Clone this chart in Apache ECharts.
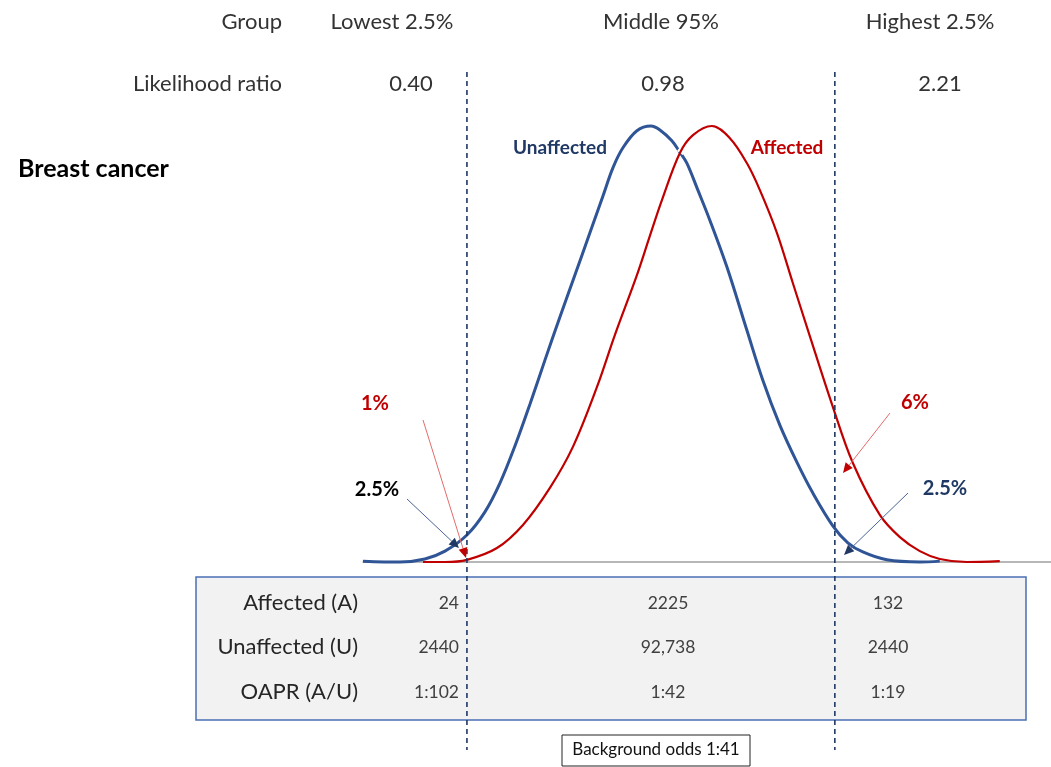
<!DOCTYPE html>
<html><head><meta charset="utf-8">
<script src="https://cdn.jsdelivr.net/npm/echarts@6/dist/echarts.min.js"></script>
<style>html,body{margin:0;padding:0;background:#fff}#c{width:1051px;height:767px}</style>
</head><body><div id="c"></div>
<script>
// ---- data ----
const groupLabels = ['Lowest 2.5%', 'Middle 95%', 'Highest 2.5%'];
const likelihoodRatios = ['0.40', '0.98', '2.21'];
const rowLabels = ['Affected (A)', 'Unaffected (U)', 'OAPR (A/U)'];
const affectedCounts = ['24', '2225', '132'];
const unaffectedCounts = ['2440', '92,738', '2440'];
const oaprValues = ['1:102', '1:42', '1:19'];
const backgroundOdds = 'Background odds 1:41';
const thresholds = [-2, 2];             // cut points (SD units of unaffected)
const tailLabels = ['1%', '2.5%', '6%', '2.5%'];
// relative density curves [score (SD units), relative height]
const unaffectedCurve = [
  [-3.130, 0.002], [-2.728, 0.000], [-2.457, 0.007], [-2.239, 0.025], [-2.000, 0.062],
  [-1.804, 0.115], [-1.641, 0.181], [-1.478, 0.266], [-1.315, 0.362], [-1.152, 0.463],
  [-0.989, 0.562], [-0.826, 0.658], [-0.663, 0.755], [-0.522, 0.839], [-0.413, 0.904],
  [-0.304, 0.950], [-0.152, 0.989], [0.000, 1.000], [0.098, 0.991], [0.228, 0.966],
  [0.315, 0.940], [0.391, 0.915], [0.511, 0.853], [0.641, 0.784], [0.826, 0.677],
  [1.043, 0.532], [1.217, 0.417], [1.402, 0.314], [1.587, 0.229], [1.761, 0.158],
  [1.978, 0.083], [2.141, 0.044], [2.304, 0.023], [2.565, 0.005], [2.924, 0.000],
  [3.141, 0.002]
];
const affectedCurve = [
  [-2.478, 0.000], [-2.239, 0.000], [-2.000, 0.005], [-1.674, 0.032], [-1.391, 0.085],
  [-1.098, 0.170], [-0.848, 0.264], [-0.587, 0.401], [-0.391, 0.521], [-0.152, 0.658],
  [-0.011, 0.748], [0.120, 0.830], [0.315, 0.938], [0.457, 0.979], [0.663, 1.000],
  [0.859, 0.972], [1.043, 0.915], [1.185, 0.853], [1.370, 0.755], [1.543, 0.640],
  [1.707, 0.532], [1.978, 0.356], [2.196, 0.227], [2.489, 0.108], [2.707, 0.057],
  [2.924, 0.025], [3.141, 0.007], [3.435, 0.000], [3.793, 0.002]
];

// ---- styling ----
const FONT = 'Lato, "Open Sans", sans-serif';
const BLUE = '#2F5597', NAVY = '#1F3864', RED = '#C00000';

const chart = echarts.init(document.getElementById('c'), null, {renderer: 'canvas'});
const haloData = affectedCurve.filter(p => p[0] > 0.15 && p[0] < 0.5);

chart.setOption({
  animation: false,
  backgroundColor: '#fff',
  grid: {left: 363, right: 0, top: 126, bottom: 205},
  xAxis: {type: 'value', min: -3.13, max: 4.35, axisLine: {show: true, lineStyle: {color: '#A0A0A0', width: 1.5}},
    axisTick: {show: false}, axisLabel: {show: false}, splitLine: {show: false}},
  yAxis: {type: 'value', min: 0, max: 1, show: false},
  series: [
    {type: 'line', data: unaffectedCurve, smooth: 0.35, symbol: 'none', clip: false,
      lineStyle: {color: BLUE, width: 3}},
    {type: 'line', data: haloData, smooth: 0.35, symbol: 'none', clip: false,
      lineStyle: {color: '#fff', width: 7}},
    {type: 'line', data: affectedCurve, smooth: 0.35, symbol: 'none', clip: false,
      lineStyle: {color: RED, width: 2.2}}
  ]
});

const px = v => chart.convertToPixel({gridIndex: 0}, [v, 0])[0];
const cutX = thresholds.map(px);

function text(t, x, y, o) {
  o = o || {};
  return {type: 'text', x: x, y: y, z: 10, style: {
    text: t, fill: o.color || '#333', fontSize: o.size || 22, fontWeight: o.weight || 'normal',
    fontFamily: FONT, align: o.align || 'center', verticalAlign: 'middle'}};
}
function arrow(x1, y1, x2, y2, color, headColor) {
  const a = Math.atan2(y2 - y1, x2 - x1), L = 10, Wd = 4.5;
  const bx = x2 - L * Math.cos(a), by = y2 - L * Math.sin(a);
  const nx = -Math.sin(a) * Wd, ny = Math.cos(a) * Wd;
  return [
    {type: 'line', z: 9, shape: {x1: x1, y1: y1, x2: bx, y2: by}, style: {stroke: color, lineWidth: 1}},
    {type: 'polygon', z: 9, shape: {points: [[x2, y2], [bx + nx, by + ny], [bx - nx, by - ny]]}, style: {fill: headColor}}
  ];
}

const g = [];
// table box
g.push({type: 'rect', z: 1, shape: {x: 196, y: 577, width: 830, height: 143},
  style: {fill: '#F2F2F2', stroke: '#4A6FB5', lineWidth: 1.5}});
// background odds box
g.push({type: 'rect', z: 1, shape: {x: 562, y: 735, width: 188, height: 31},
  style: {fill: '#fff', stroke: '#222', lineWidth: 1}});
g.push(text(backgroundOdds, 656, 750, {size: 17, color: '#111'}));
// dashed cut lines
cutX.forEach(x => g.push({type: 'line', z: 5, shape: {x1: x, y1: 72, x2: x, y2: 750},
  style: {stroke: NAVY, lineWidth: 1.6, lineDash: [5, 4]}}));
// header rows
g.push(text('Group', 282, 22, {align: 'right'}));
g.push(text('Likelihood ratio', 282, 84, {align: 'right'}));
const groupCx = [392, 661, 930], lrCx = [411, 663, 940];
groupLabels.forEach((t, i) => g.push(text(t, groupCx[i], 22)));
likelihoodRatios.forEach((t, i) => g.push(text(t, lrCx[i], 84)));
g.push(text('Breast cancer', 18, 169, {align: 'left', size: 25, weight: 'bold', color: '#000'}));
// curve labels
g.push(text('Unaffected', 560, 148, {size: 19, weight: 'bold', color: NAVY}));
g.push(text('Affected', 787, 148, {size: 19, weight: 'bold', color: RED}));
// tail labels and arrows
g.push(text(tailLabels[0], 375, 404, {size: 20, weight: 'bold', color: RED}));
g.push(text(tailLabels[1], 377, 490, {size: 20, weight: 'bold', color: '#000'}));
g.push(text(tailLabels[2], 915, 403, {size: 20, weight: 'bold', color: RED}));
g.push(text(tailLabels[3], 945, 489, {size: 20, weight: 'bold', color: NAVY}));
g.push(...arrow(423, 420, 466, 558, '#E46C6C', RED));
g.push(...arrow(407, 499, 459, 548, '#4A6496', NAVY));
g.push(...arrow(890, 413, 843, 473, '#E46C6C', RED));
g.push(...arrow(908, 493, 844, 555, '#4A6496', NAVY));
// table rows
const rowY = [603, 647, 692];
rowLabels.forEach((t, i) => g.push(text(t, 358, rowY[i], {align: 'right', size: 22, color: '#262626'})));
[affectedCounts, unaffectedCounts, oaprValues].forEach((row, i) => {
  g.push(text(row[0], 459, rowY[i], {align: 'right', size: 17.5, color: '#404040'}));
  g.push(text(row[1], 668, rowY[i], {size: 17.5, color: '#404040'}));
  g.push(text(row[2], 888, rowY[i], {size: 17.5, color: '#404040'}));
});

chart.setOption({graphic: {elements: g}});
</script></body></html>
